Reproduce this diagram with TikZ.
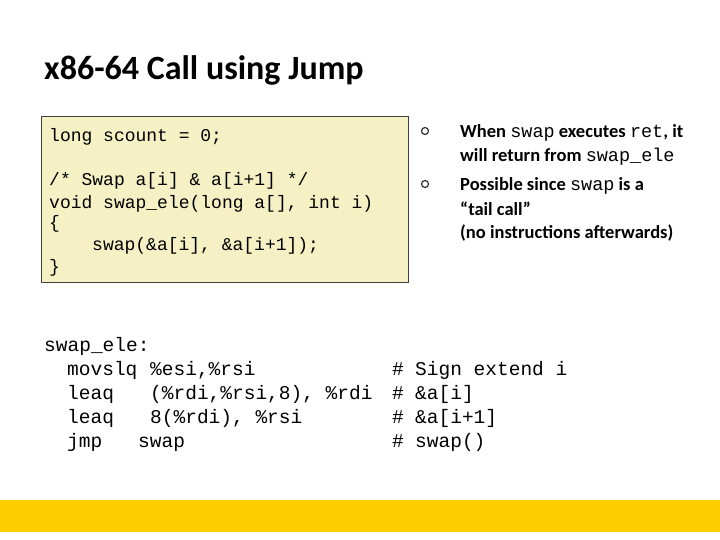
\documentclass[tikz,border=0pt]{standalone}
\usepackage{fontspec}
\setmainfont{Carlito}
\newfontfamily\codefont{Liberation Mono}
\definecolor{boxfill}{HTML}{F5F1C4}
\definecolor{barcol}{HTML}{FFCC00}
\definecolor{bulcol}{HTML}{333333}
\tikzset{
  code/.style={anchor=base west,inner sep=0pt,font=\codefont\fontsize{18}{20}\selectfont},
  bcode/.style={anchor=base west,inner sep=0pt,font=\codefont\fontsize{19.5}{22}\selectfont},
  txt/.style={anchor=base west,inner sep=0pt,font=\bfseries\fontsize{18.5}{20}\selectfont},
  ring/.style={circle,draw=bulcol,line width=1.2pt,minimum size=7pt,inner sep=0pt}
}
\begin{document}
\begin{tikzpicture}[x=1pt,y=-1pt]
\useasboundingbox (0,0) rectangle (720,540);
\node[anchor=base west,inner sep=0pt,font=\bfseries\fontsize{34}{40}\selectfont] (title) at (44,80) {x86-64 Call using Jump};
\node[draw=black!75,fill=boxfill,line width=1.2pt,minimum width=367pt,minimum height=166pt,anchor=north west,inner sep=0pt] (box) at (41,116) {};
\node[code] (c1) at (49,142) {long scount = 0;};
\node[code] (c2) at (49,186) {/* Swap a[i] \& a[i+1] */};
\node[code] (c3) at (49,208) {void swap\_ele(long a[], int i)};
\node[code] (c4) at (49,229) {\{};
\node[code] (c5) at (92,250) {swap(\&a[i], \&a[i+1]);};
\node[code] (c6) at (49,272) {\}};
\node[ring] (b1) at (425,131) {};
\node[ring] (b2) at (425,184) {};
\node[txt] (t1) at (460,138) {When {\mdseries\codefont swap} executes {\mdseries\codefont ret}, it};
\node[txt] (t2) at (460,162) {will return from {\mdseries\codefont swap\_ele}};
\node[txt] (t3) at (460,191) {Possible since {\mdseries\codefont swap} is a};
\node[txt] (t4) at (460,215) {“tail call”};
\node[txt] (t5) at (460,239) {(no instructions afterwards)};
\node[bcode] (l0) at (44,351) {swap\_ele:};
\node[bcode] (m1) at (67,375) {movslq};
\node[bcode] (o1) at (150,375) {\%esi,\%rsi};
\node[bcode] (m2) at (67,399) {leaq};
\node[bcode] (o2) at (150,399) {(\%rdi,\%rsi,8), \%rdi};
\node[bcode] (m3) at (67,423) {leaq};
\node[bcode] (o3) at (150,423) {8(\%rdi), \%rsi};
\node[bcode] (m4) at (67,447) {jmp};
\node[bcode] (o4) at (138,447) {swap};
\node[bcode] (h1) at (392,375) {\#};
\node[bcode] (h2) at (392,399) {\#};
\node[bcode] (h3) at (392,423) {\#};
\node[bcode] (h4) at (392,447) {\#};
\node[bcode] (k1) at (415,375) {Sign extend i};
\node[bcode] (k2) at (415,399) {\&a[i]};
\node[bcode] (k3) at (415,423) {\&a[i+1]};
\node[bcode] (k4) at (415,447) {swap()};
\fill[barcol] (0,500) rectangle (720,532);
\end{tikzpicture}
\end{document}
